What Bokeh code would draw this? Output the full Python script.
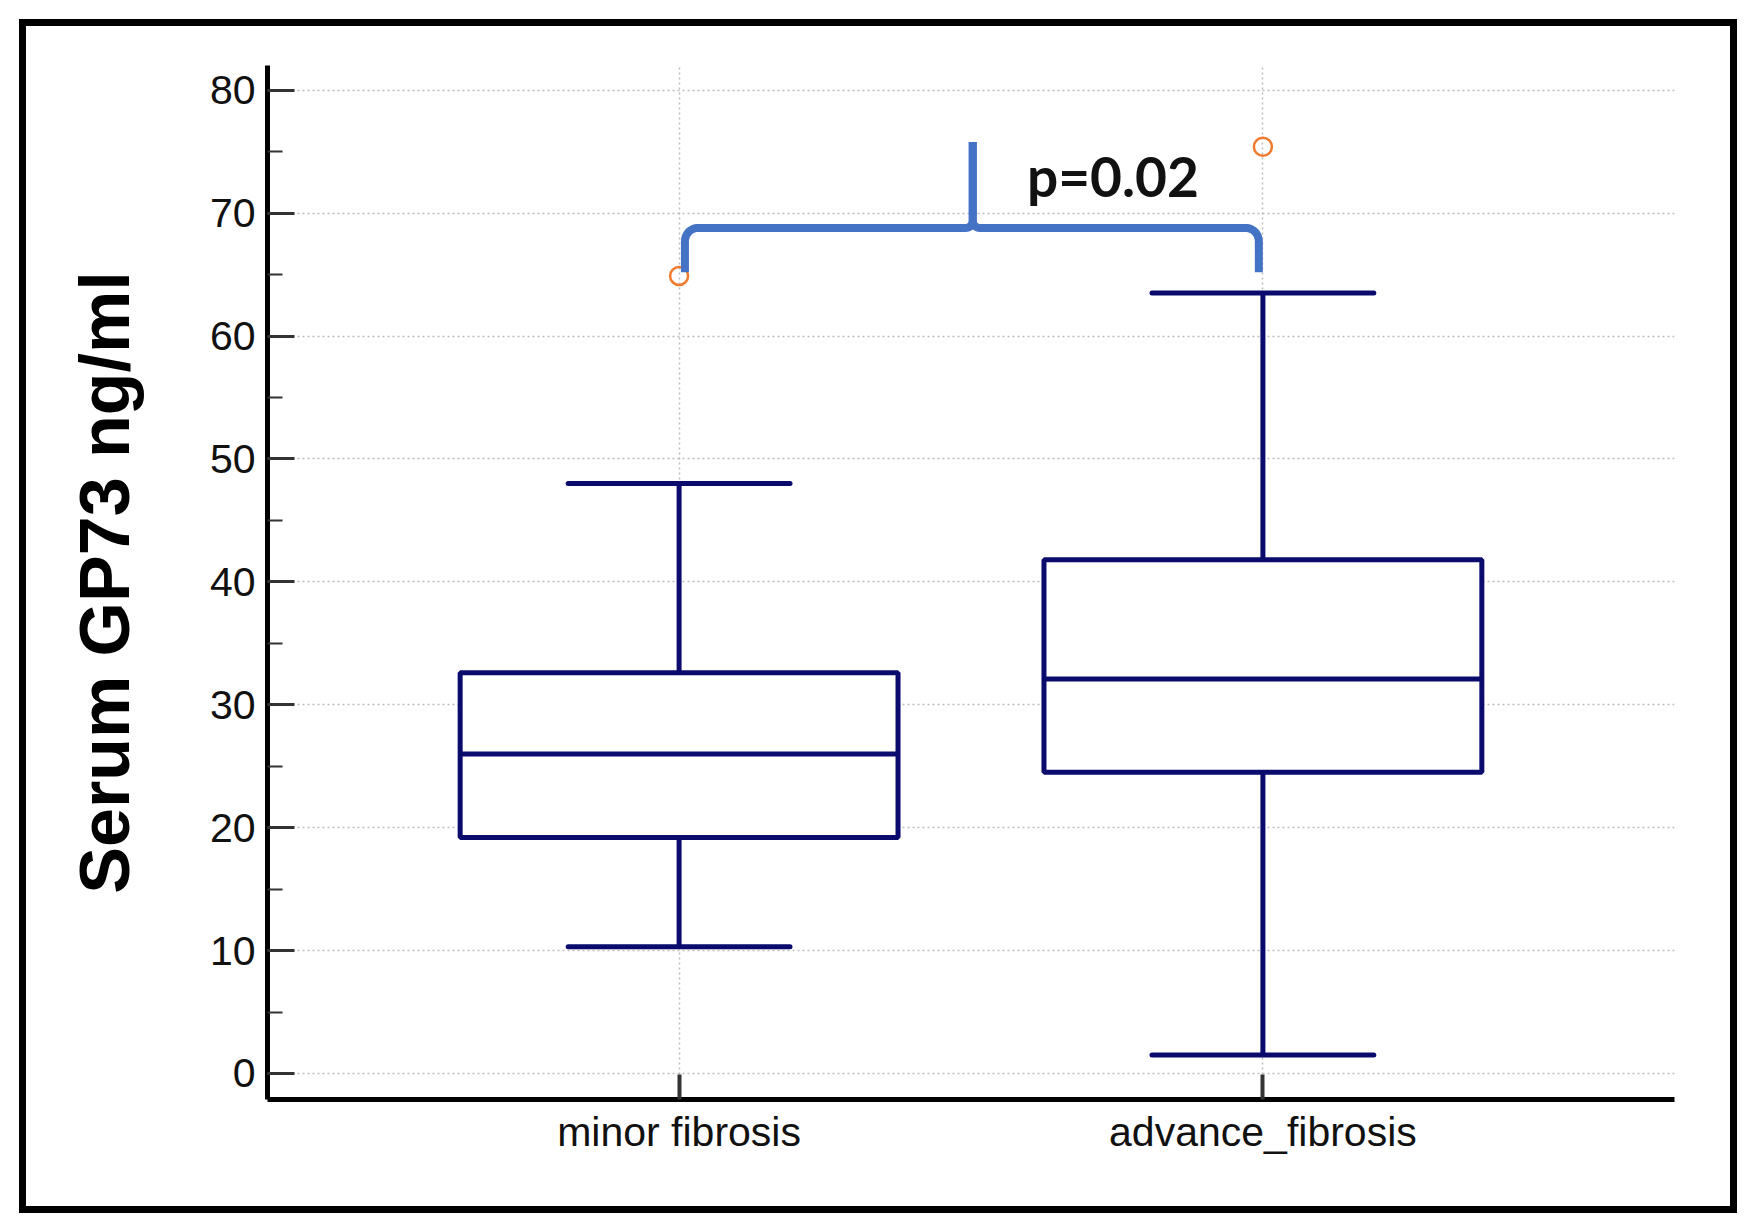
import numpy as np
from bokeh.plotting import figure
from bokeh.models import ColumnDataSource, SingleIntervalTicker, FixedTicker, Label, InlineStyleSheet
from bokeh.embed import file_html
from bokeh.resources import INLINE

# ---------------- data ----------------
categories = ["minor fibrosis", "advance_fibrosis"]
lower_whisker = [10.3, 1.5]
q1 = [19.2, 24.5]
median = [26.0, 32.1]
q3 = [32.6, 41.8]
upper_whisker = [48.0, 63.5]
outlier_values = [64.9, 75.4]
y_ticks_major = 10
y_title = "Serum GP73 ng/ml"
p_text = "p=0.02"
# significance bracket (annotation) values
bracket_left, bracket_mid, bracket_right = 1.01, 1.503, 1.993
bracket_end_y, bracket_bar_y, bracket_tip_y = 65.2, 68.8, 75.8
p_text_x, p_text_y = 1.743, 73.0

# ---------------- styles ----------------
NAVY = "#0b0b6e"
ORANGE = "#f07a2e"
BLUE = "#4472c4"
FONT = "Liberation Sans"

xpos = np.arange(len(categories)) + 1.0
box_w = 0.75
cap_w = 0.38

p = figure(width=1740, height=1214, x_range=(0.295, 2.705), y_range=(-2.12, 82.02),
           output_backend="svg", toolbar_location=None,
           min_border_left=267, min_border_right=66, min_border_top=65, min_border_bottom=115)
p.outline_line_color = None
p.background_fill_color = "white"
p.border_fill_color = "white"

# axes
yax = p.yaxis[0]
yax.ticker = SingleIntervalTicker(interval=y_ticks_major, num_minor_ticks=2)
xax = p.xaxis[0]
xax.ticker = FixedTicker(ticks=list(xpos), minor_ticks=[])
xax.major_label_overrides = {int(x): c for x, c in zip(xpos, categories)}

for ax in (xax, yax):
    ax.axis_line_color = "black"
    ax.axis_line_width = 5
    ax.major_tick_line_color = "#333333"
    ax.major_tick_line_width = 3
    ax.major_tick_out = 0
    ax.minor_tick_out = 0
    ax.minor_tick_line_color = "#333333"
    ax.minor_tick_line_width = 2
    ax.major_label_text_font = FONT
    ax.major_label_text_font_size = "41px"
    ax.major_label_text_color = "#111111"
    ax.major_label_standoff = 12
xax.major_label_standoff = 9
xax.major_tick_in = 25
xax.major_tick_line_width = 4
yax.major_tick_in = 27
yax.minor_tick_in = 15

yax.axis_label = y_title
yax.axis_label_text_font = FONT
yax.axis_label_text_font_style = "bold"
yax.axis_label_text_font_size = "70px"
yax.axis_label_text_color = "black"
yax.axis_label_standoff = 63

# grids
p.ygrid.grid_line_color = "#bdbdbd"
p.ygrid.grid_line_dash = "2 3"
p.ygrid.grid_line_width = 1.5
p.xgrid.ticker = FixedTicker(ticks=list(xpos))
p.xgrid.grid_line_color = "#bdbdbd"
p.xgrid.grid_line_dash = "2 3"
p.xgrid.grid_line_width = 1.5

src = ColumnDataSource(dict(x=xpos, lo=lower_whisker, q1=q1, med=median, q3=q3, hi=upper_whisker,
                            left=xpos - box_w / 2, right=xpos + box_w / 2,
                            cl=xpos - cap_w / 2, cr=xpos + cap_w / 2))

LW = 5
# whiskers
p.segment(x0="x", y0="q3", x1="x", y1="hi", source=src, line_color=NAVY, line_width=LW)
p.segment(x0="x", y0="q1", x1="x", y1="lo", source=src, line_color=NAVY, line_width=LW)
p.segment(x0="cl", y0="hi", x1="cr", y1="hi", source=src, line_color=NAVY, line_width=LW, line_cap="round")
p.segment(x0="cl", y0="lo", x1="cr", y1="lo", source=src, line_color=NAVY, line_width=LW, line_cap="round")
# boxes
p.quad(left="left", right="right", bottom="q1", top="q3", source=src,
       fill_color="white", line_color=NAVY, line_width=LW)
p.segment(x0="left", y0="med", x1="right", y1="med", source=src, line_color=NAVY, line_width=LW)

# outliers
p.scatter(x=xpos, y=outlier_values, marker="circle", size=18, fill_color=None,
          line_color=ORANGE, line_width=2.5)

# significance bracket
rx, ry = 0.022, 1.1
cx, cy = 0.012, 0.6
t = np.linspace(0, np.pi / 2, 12)
def half(sign, xe):
    ccx = xe + sign * rx
    ccy = bracket_bar_y - ry
    ax_ = ccx - sign * rx * np.cos(t)
    ay_ = ccy + ry * np.sin(t)
    mcx = bracket_mid - sign * cx
    mcy = bracket_bar_y + cy
    bx = mcx + sign * cx * np.sin(t)
    by = mcy - cy * np.cos(t)
    xs = [xe] + list(ax_) + list(bx) + [bracket_mid]
    ys = [bracket_end_y] + list(ay_) + list(by) + [bracket_tip_y]
    return xs, ys
lx, ly = half(1, bracket_left)
rxs, rys = half(-1, bracket_right)
p.multi_line(xs=[lx, rxs], ys=[ly, rys], line_color=BLUE, line_width=8, line_join="round")

p.add_layout(Label(x=p_text_x, y=p_text_y, text=p_text, text_font="Lato", text_font_style="bold",
                   text_font_size="55px", text_color="#111111", text_align="center",
                   text_baseline="middle"))

# outer frame around the whole chart
frame_css = (":host::after { content: ''; position: absolute; left: 19px; top: 19px; "
             "width: 1718px; height: 1194px; border: 7px solid black; box-sizing: border-box; "
             "pointer-events: none; }")
p.stylesheets = [InlineStyleSheet(css=frame_css)]

open("out.html", "w").write(file_html(p, INLINE))
